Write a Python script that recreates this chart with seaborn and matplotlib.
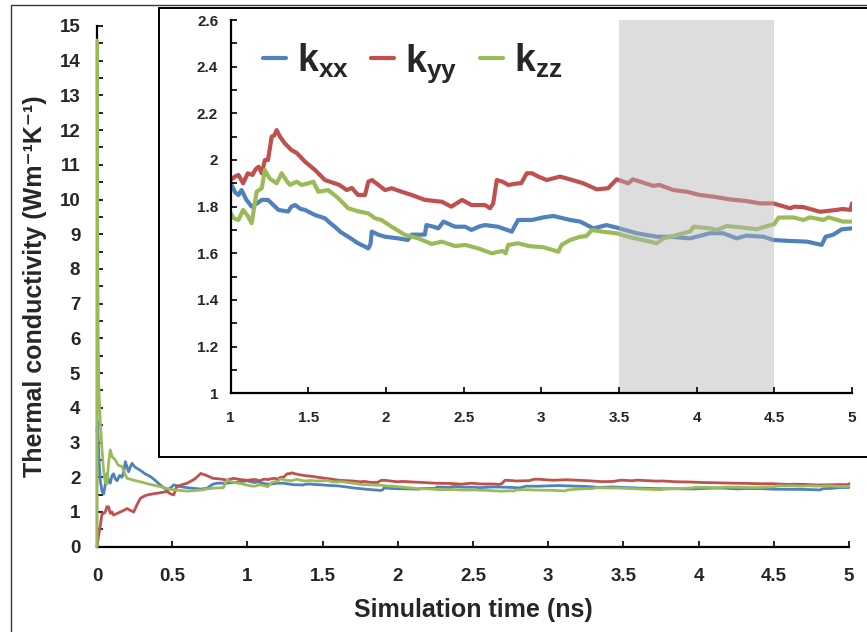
import matplotlib
matplotlib.use("Agg")
import matplotlib.pyplot as plt
import seaborn as sns
import pandas as pd
from matplotlib.patches import Rectangle
from matplotlib.ticker import MultipleLocator, FuncFormatter

# ---------------- data ----------------
t_xx = [0.0, 0.004, 0.012, 0.022, 0.033, 0.044, 0.055, 0.066, 0.077, 0.088, 0.10, 0.11, 0.122, 0.133,
        0.15, 0.166, 0.18, 0.188, 0.2, 0.21, 0.222, 0.233, 0.25, 0.288, 0.32, 0.355, 0.39, 0.42, 0.45,
        0.466, 0.49, 0.51, 0.555, 0.6, 0.643, 0.69, 0.73, 0.77, 0.8, 0.865, 0.91, 0.953,
        1.0, 1.01, 1.03, 1.05, 1.07, 1.10, 1.135, 1.17, 1.20, 1.24, 1.27, 1.307, 1.37, 1.39, 1.415,
        1.45, 1.478, 1.543, 1.607, 1.64, 1.67, 1.71, 1.757, 1.82, 1.86, 1.886, 1.9, 1.908, 1.95,
        1.994, 2.08, 2.14, 2.165, 2.25, 2.26, 2.3, 2.337, 2.37, 2.444, 2.51, 2.55, 2.6, 2.637, 2.72,
        2.81, 2.85, 2.94, 3.013, 3.077, 3.185, 3.25, 3.335, 3.42, 3.485, 3.614, 3.743, 3.83, 3.957,
        4.086, 4.17, 4.258, 4.32, 4.43, 4.494, 4.60, 4.71, 4.805, 4.83, 4.88, 4.934, 5.0]
k_xx = [3.3, 3.6, 2.6, 1.9, 1.6, 1.52, 1.8, 2.1, 1.9, 1.83, 2.05, 2.1, 1.95, 1.9,
        2.05, 2.0, 2.2, 2.45, 2.3, 2.16, 2.3, 2.4, 2.3, 2.2, 2.1, 2.02, 1.9, 1.78, 1.68,
        1.63, 1.7, 1.78, 1.73, 1.7, 1.68, 1.66, 1.68, 1.8, 1.83, 1.83, 1.85, 1.87,
        1.90, 1.886, 1.86, 1.85, 1.871, 1.83, 1.80, 1.814, 1.829, 1.829, 1.81, 1.786, 1.779, 1.80, 1.807,
        1.79, 1.786, 1.764, 1.75, 1.73, 1.714, 1.69, 1.671, 1.643, 1.63, 1.621, 1.64, 1.693, 1.68,
        1.671, 1.664, 1.657, 1.68, 1.68, 1.721, 1.715, 1.707, 1.736, 1.714, 1.714, 1.70, 1.715, 1.721, 1.714,
        1.693, 1.743, 1.743, 1.754, 1.76, 1.743, 1.736, 1.707, 1.721, 1.71, 1.686, 1.671, 1.671, 1.664,
        1.686, 1.686, 1.664, 1.676, 1.671, 1.657, 1.653, 1.65, 1.636, 1.671, 1.68, 1.703, 1.707]

t_yy = [0.0, 0.01, 0.022, 0.033, 0.044, 0.055, 0.066, 0.077, 0.088, 0.10, 0.11, 0.13, 0.155, 0.18,
        0.2, 0.22, 0.244, 0.265, 0.288, 0.31, 0.333, 0.37, 0.4, 0.44, 0.466, 0.49, 0.51, 0.53, 0.56,
        0.6, 0.65, 0.69, 0.73, 0.77, 0.82, 0.865, 0.91, 0.955,
        1.0, 1.03, 1.05, 1.08, 1.11, 1.14, 1.16, 1.18, 1.20, 1.22, 1.24, 1.264, 1.28, 1.296, 1.317,
        1.35, 1.39, 1.425, 1.478, 1.543, 1.607, 1.67, 1.70, 1.747, 1.78, 1.82, 1.865, 1.886, 1.91,
        1.994, 2.036, 2.10, 2.165, 2.25, 2.36, 2.42, 2.49, 2.55, 2.637, 2.67, 2.69, 2.713, 2.75,
        2.787, 2.85, 2.87, 2.906, 2.94, 2.98, 3.035, 3.12, 3.185, 3.27, 3.357, 3.43, 3.485, 3.56,
        3.59, 3.72, 3.76, 3.85, 3.936, 4.02, 4.107, 4.215, 4.32, 4.408, 4.494, 4.60, 4.63, 4.687,
        4.795, 4.90, 4.94, 4.99, 5.0]
k_yy = [0.0, 0.3, 0.6, 0.95, 0.96, 1.0, 1.15, 1.15, 0.96, 1.0, 0.91, 0.95, 1.0, 1.05,
        1.1, 1.05, 1.0, 1.2, 1.39, 1.45, 1.49, 1.52, 1.54, 1.57, 1.59, 1.52, 1.49, 1.73, 1.78,
        1.83, 1.95, 2.11, 2.05, 1.97, 1.95, 1.92, 1.97, 1.93,
        1.914, 1.93, 1.936, 1.90, 1.943, 1.936, 1.96, 1.971, 1.943, 2.0, 2.0, 2.10, 2.105, 2.128, 2.10,
        2.07, 2.043, 2.03, 1.993, 1.957, 1.914, 1.90, 1.893, 1.871, 1.88, 1.85, 1.85, 1.907, 1.914,
        1.871, 1.879, 1.864, 1.85, 1.829, 1.821, 1.80, 1.829, 1.807, 1.807, 1.793, 1.814, 1.914, 1.907,
        1.893, 1.90, 1.90, 1.943, 1.943, 1.929, 1.914, 1.929, 1.917, 1.90, 1.874, 1.879, 1.917, 1.90,
        1.917, 1.889, 1.893, 1.871, 1.864, 1.85, 1.843, 1.831, 1.824, 1.814, 1.814, 1.793, 1.80, 1.798,
        1.778, 1.786, 1.79, 1.786, 1.814]

t_zz = [0.0, 0.001, 0.004, 0.008, 0.012, 0.022, 0.033, 0.044, 0.055, 0.066, 0.077, 0.088, 0.1, 0.11,
        0.122, 0.14, 0.166, 0.185, 0.2, 0.24, 0.288, 0.35, 0.42, 0.48, 0.53, 0.6, 0.65, 0.69, 0.754,
        0.84, 0.865, 0.91, 0.953,
        1.0, 1.02, 1.05, 1.08, 1.11, 1.135, 1.167, 1.20, 1.22, 1.25, 1.296, 1.328, 1.36, 1.382, 1.425,
        1.457, 1.50, 1.532, 1.564, 1.628, 1.693, 1.757, 1.82, 1.886, 1.93, 1.97, 2.036, 2.122, 2.208,
        2.294, 2.36, 2.444, 2.51, 2.594, 2.68, 2.75, 2.77, 2.787, 2.85, 2.92, 3.013, 3.11, 3.13,
        3.185, 3.25, 3.29, 3.325, 3.39, 3.485, 3.57, 3.68, 3.743, 3.786, 3.85, 3.914, 3.957, 3.98,
        4.086, 4.13, 4.194, 4.30, 4.387, 4.473, 4.50, 4.526, 4.62, 4.687, 4.73, 4.815, 4.85, 4.94, 5.0]
k_zz = [0.0, 14.6, 9.0, 6.0, 4.6, 3.6, 2.8, 2.2, 1.85, 1.8, 2.4, 2.79, 2.6, 2.55,
        2.5, 2.35, 2.31, 2.1, 1.97, 1.92, 1.87, 1.8, 1.73, 1.66, 1.63, 1.6, 1.62, 1.63, 1.68,
        1.7, 1.92, 1.85, 1.82,
        1.771, 1.75, 1.743, 1.786, 1.76, 1.729, 1.864, 1.879, 1.957, 1.921, 1.90, 1.943, 1.91, 1.893, 1.907,
        1.893, 1.90, 1.907, 1.864, 1.871, 1.836, 1.793, 1.78, 1.771, 1.75, 1.743, 1.714, 1.679, 1.664,
        1.64, 1.65, 1.631, 1.636, 1.621, 1.60, 1.61, 1.60, 1.636, 1.643, 1.631, 1.626, 1.607, 1.636,
        1.657, 1.671, 1.674, 1.70, 1.693, 1.686, 1.669, 1.653, 1.643, 1.664, 1.674, 1.686, 1.693, 1.714,
        1.707, 1.70, 1.717, 1.71, 1.703, 1.721, 1.725, 1.753, 1.754, 1.743, 1.754, 1.743, 1.754, 1.736, 1.736]

labels = [r"$k_{xx}$", r"$k_{yy}$", r"$k_{zz}$"]
colors = ["#4F81BD", "#C0504D", "#9BBB59"]
shade_range = (3.5, 4.5)

main_xticks = [0, 0.5, 1, 1.5, 2, 2.5, 3, 3.5, 4, 4.5, 5]
main_yticks = list(range(0, 16))
inset_xticks = [1, 1.5, 2, 2.5, 3, 3.5, 4, 4.5, 5]
inset_yticks = [1, 1.2, 1.4, 1.6, 1.8, 2, 2.2, 2.4, 2.6]

xlabel = "Simulation time (ns)"
ylabel = "Thermal conductivity (Wm\u207b\u00b9K\u207b\u00b9)"

# ---------------- style ----------------
sns.set_theme(style="white")
plt.rcParams["font.family"] = ["Liberation Sans", "DejaVu Sans"]
plt.rcParams["font.weight"] = "bold"
plt.rcParams["mathtext.fontset"] = "custom"
plt.rcParams["mathtext.rm"] = "Liberation Sans:bold"
plt.rcParams["mathtext.it"] = "Liberation Sans:bold"
plt.rcParams["mathtext.bf"] = "Liberation Sans:bold"
plt.rcParams["mathtext.default"] = "rm"

W, H = 867, 632
fig = plt.figure(figsize=(W / 100, H / 100), dpi=100, facecolor="white")

def fx(px):
    return px / W

def fy(py):
    return 1 - py / H

series = [(t_xx, k_xx), (t_yy, k_yy), (t_zz, k_zz)]
fmt = FuncFormatter(lambda v, p: "%g" % v)

# ---------------- main axes ----------------
ax = fig.add_axes([fx(97), fy(546.7), fx(849) - fx(97), fy(26) - fy(546.7)], zorder=0)
for (t, k), c in zip(series, colors):
    df = pd.DataFrame({"t": t, "k": k})
    sns.lineplot(data=df, x="t", y="k", ax=ax, color=c, linewidth=2.0,
                 estimator=None, sort=False, legend=False, zorder=3, clip_on=False)
ax.set_xlim(0, 5)
ax.set_ylim(0, 15)
ax.set_xticks(main_xticks)
ax.set_yticks(main_yticks)
ax.yaxis.set_minor_locator(MultipleLocator(0.5))
ax.xaxis.set_major_formatter(fmt)
ax.yaxis.set_major_formatter(fmt)
for s in ["top", "right"]:
    ax.spines[s].set_visible(False)
for s in ["left", "bottom"]:
    ax.spines[s].set_color("black")
    ax.spines[s].set_linewidth(1.6)
ax.tick_params(axis="both", which="both", direction="in", color="black", width=1.2,
               left=True, bottom=True)
ax.tick_params(axis="both", which="major", length=4, labelsize=13.5)
ax.tick_params(axis="y", which="minor", length=4)
ax.tick_params(axis="y", which="major", pad=12)
ax.tick_params(axis="x", which="major", pad=15)
ax.set_xlabel(xlabel, fontsize=18, fontweight="bold")
ax.set_ylabel(ylabel, fontsize=18, fontweight="bold")
ax.xaxis.set_label_coords(0.5, -0.098)
ax.yaxis.set_label_coords(-0.066, 0.5)
ax.set_facecolor("white")

# ---------------- frames ----------------
fig.add_artist(Rectangle((fx(11), -0.2), 1.2, fy(5) + 0.2, transform=fig.transFigure,
                         facecolor="none", edgecolor="#3a3a3a", linewidth=1.0, zorder=-1))
fig.add_artist(Rectangle((fx(159), fy(457)), 1.2, fy(8) - fy(457), transform=fig.transFigure,
                         facecolor="white", edgecolor="black", linewidth=1.4, zorder=1))

# ---------------- inset axes ----------------
ai = fig.add_axes([fx(230.7), fy(393.3), fx(852) - fx(230.7), fy(20) - fy(393.3)], zorder=2)
for (t, k), c, lab in zip(series, colors, labels):
    df = pd.DataFrame({"t": t, "k": k})
    sns.lineplot(data=df, x="t", y="k", ax=ai, color=c, linewidth=3.0,
                 estimator=None, sort=False, label=lab)
ai.axvspan(shade_range[0], shade_range[1], color="#b5b5b5", alpha=0.45, lw=0, zorder=2.2)
ai.set_axisbelow(False)
ai.set_xlim(1, 5)
ai.set_ylim(1, 2.6)
ai.set_xticks(inset_xticks)
ai.set_yticks(inset_yticks)
ai.yaxis.set_minor_locator(MultipleLocator(0.1))
ai.xaxis.set_major_formatter(fmt)
ai.yaxis.set_major_formatter(fmt)
for s in ["top", "right"]:
    ai.spines[s].set_visible(False)
for s in ["left", "bottom"]:
    ai.spines[s].set_color("black")
    ai.spines[s].set_linewidth(1.6)
ai.tick_params(axis="both", which="both", direction="in", color="black", width=1.2,
               left=True, bottom=True)
ai.tick_params(axis="both", which="major", length=4, labelsize=11)
ai.tick_params(axis="y", which="minor", length=4)
ai.tick_params(axis="y", which="major", pad=9)
ai.tick_params(axis="x", which="major", pad=13)
ai.set_xlabel("")
ai.set_ylabel("")
ai.set_facecolor("white")
ai.legend(loc="center left", bbox_to_anchor=(0.052, 0.885), ncol=3, frameon=False,
          fontsize=27, handlelength=0.6, handletextpad=0.3, columnspacing=0.6,
          borderaxespad=0, borderpad=0)

fig.savefig("out.png", dpi=100, facecolor="white")
